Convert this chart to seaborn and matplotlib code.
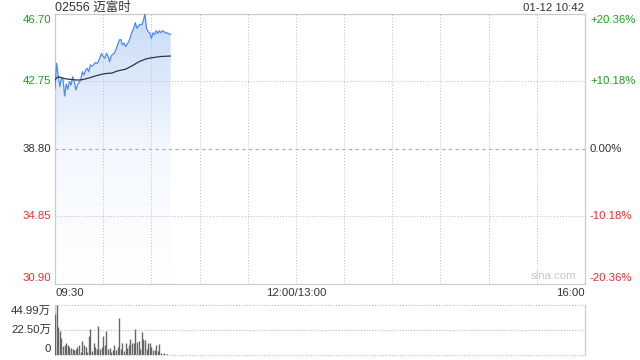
import numpy as np
import pandas as pd
import matplotlib
matplotlib.use("Agg")
import matplotlib.pyplot as plt
from matplotlib.colors import LinearSegmentedColormap
import seaborn as sns

# ---------------- data ----------------
title = "02556 迈富时"
stamp = "01-12 10:42"
prev_close = 38.80
price_ticks = [46.70, 42.75, 38.80, 34.85, 30.90]
pct_labels = ["+20.36%", "+10.18%", "0.00%", "-10.18%", "-20.36%"]
time_labels = ["09:30", "12:00/13:00", "16:00"]
vol_labels = ["44.99万", "22.50万", "0"]
vol_max = 44.99

price = [42.35, 43.82, 43.10, 42.45, 42.94, 42.88, 41.90, 42.60, 42.30, 42.74,
         42.55, 43.03, 42.74, 42.25, 42.55, 42.70, 42.84, 43.32, 43.13, 43.40,
         43.52, 43.32, 43.72, 43.65, 43.72, 43.85, 43.80, 43.90, 44.17, 44.40,
         44.20, 44.12, 44.40, 44.25, 43.91, 44.25, 44.35, 44.40, 44.63, 44.90,
         45.18, 45.20, 44.89, 45.00, 44.79, 44.95, 45.10, 45.37, 45.66, 45.86,
         46.19, 45.86, 46.00, 46.10, 46.06, 46.30, 46.70, 45.86, 45.66, 45.60,
         45.28, 45.60, 45.50, 45.72, 45.57, 45.72, 45.60, 45.72, 45.66, 45.57,
         45.60, 45.53, 45.50]

avg = [42.84, 42.95, 43.03, 43.00, 42.98, 42.95, 42.92, 42.90, 42.89, 42.88,
       42.87, 42.86, 42.85, 42.84, 42.84, 42.84, 42.85, 42.86, 42.88, 42.90,
       42.93, 42.95, 42.98, 43.01, 43.04, 43.07, 43.10, 43.12, 43.14, 43.17,
       43.19, 43.20, 43.22, 43.23, 43.23, 43.24, 43.26, 43.30, 43.34, 43.37,
       43.39, 43.41, 43.43, 43.45, 43.47, 43.52, 43.57, 43.62, 43.67, 43.72,
       43.78, 43.84, 43.89, 43.94, 43.97, 44.01, 44.05, 44.08, 44.10, 44.12,
       44.13, 44.15, 44.16, 44.18, 44.19, 44.20, 44.21, 44.22, 44.22, 44.23,
       44.23, 44.24, 44.24]

volume = [37, 45, 25, 22, 15, 8, 9, 11, 9, 7,
          6, 5, 4.5, 5.5, 7, 9, 3, 13, 9, 7,
          3, 17, 23, 4, 11, 7, 5, 26, 5, 7,
          17, 9, 22, 5, 6, 3, 4.5, 9, 4.5, 7,
          33, 5, 11, 4, 11, 6, 9, 14, 11, 11,
          23, 12, 13, 5, 21, 14, 13.5, 5.5, 11, 11,
          7, 4.5, 4.5, 9, 3.5, 10, 2, 1, 2, 1,
          0.5, 0.3, 0.2]

minutes = list(range(len(price)))
df = pd.DataFrame({"minute": minutes, "price": price, "avg": avg, "volume": volume})

# ---------------- style ----------------
sns.set_theme(style="white")
plt.rcParams["font.family"] = ["Liberation Sans", "Noto Sans CJK SC", "DejaVu Sans"]

GREEN = "#1a9e1a"
RED = "#f02b2b"
DARK = "#333333"
GRID = "#bdbdbd"
BORDER = "#cccccc"
FS = 8.2

fig = plt.figure(figsize=(6.4, 3.6), dpi=100)
W, H = 640, 360
L, R = 55, 585
ax = fig.add_axes([L / W, 1 - 284 / H, (R - L) / W, (284 - 14) / H])
axv = fig.add_axes([L / W, 1 - 355 / H, (R - L) / W, (355 - 305) / H])

XMAX = 330
lo, hi = price_ticks[-1], price_ticks[0]

# ---------------- main price panel ----------------
ax.set_xlim(0, XMAX)
ax.set_ylim(lo, hi)

# gradient fill under price
poly = ax.fill_between(df["minute"], df["price"], lo, color="none", lw=0)
cmap = LinearSegmentedColormap.from_list("fade", ["#ffffff", "#f4f8fe", "#c9dbf8"])
grad = np.linspace(1, 0, 256).reshape(-1, 1)
img = ax.imshow(grad, cmap=cmap, vmin=0, vmax=1, extent=[0, minutes[-1], lo, hi],
                aspect="auto", origin="upper", zorder=1)
img.set_clip_path(poly.get_paths()[0], transform=ax.transData)

# grid (drawn over the fill)
for t in range(30, XMAX, 30):
    ax.axvline(t, color=GRID, lw=0.7, ls=(0, (1, 2)), zorder=2)
for p in [price_ticks[1], price_ticks[3]]:
    ax.axhline(p, color=GRID, lw=0.7, ls=(0, (1, 2)), zorder=2)
ax.axhline(prev_close, color="#aaaaaa", lw=0.8, ls=(0, (3, 3)), zorder=2)

sns.lineplot(data=df, x="minute", y="price", ax=ax, color="#4d8bf0", lw=0.9, zorder=3)
sns.lineplot(data=df, x="minute", y="avg", ax=ax, color="#2b3547", lw=0.9, zorder=3)

ax.set_xticks([])
ax.set_yticks([])
ax.set_xlabel("")
ax.set_ylabel("")
for s in ax.spines.values():
    s.set_color(BORDER)
    s.set_linewidth(0.9)

# left price labels / right pct labels
colors = [GREEN, GREEN, DARK, RED, RED]
for i, (p, lab, c) in enumerate(zip(price_ticks, pct_labels, colors)):
    va = "top" if i == 0 else ("bottom" if i == len(price_ticks) - 1 else "center")
    off = -1 if i == 0 else (1 if i == len(price_ticks) - 1 else 0)
    ax.annotate(f"{p:.2f}", (0, p), xycoords="data", xytext=(-4, off),
                textcoords="offset pixels", ha="right", va=va, color=c, fontsize=FS)
    ax.annotate(lab, (XMAX, p), xycoords="data", xytext=(5, off),
                textcoords="offset pixels", ha="left", va=va, color=c, fontsize=FS)

# time labels
ax.annotate(time_labels[0], (0, lo), xytext=(0, -4), textcoords="offset pixels",
            ha="left", va="top", color=DARK, fontsize=FS)
ax.annotate(time_labels[1], (150, lo), xytext=(0, -4), textcoords="offset pixels",
            ha="center", va="top", color=DARK, fontsize=FS)
ax.annotate(time_labels[2], (XMAX, lo), xytext=(0, -4), textcoords="offset pixels",
            ha="right", va="top", color=DARK, fontsize=FS)

# watermark
ax.text(0.94, 0.012, "sina.com", transform=ax.transAxes, ha="center", va="bottom",
        color="#c8c8c8", fontsize=FS)

# title & stamp
fig.text(L / W, 1 - 8 / H, title, ha="left", va="center", color=DARK, fontsize=FS + 0.8,
         family=["Liberation Sans", "Noto Sans CJK SC"])
fig.text(584 / W, 1 - 8 / H, stamp, ha="right", va="center", color=DARK, fontsize=FS)

# ---------------- volume panel ----------------
axv.set_xlim(0, XMAX)
axv.set_ylim(0, vol_max)
for v in [vol_max, vol_max / 2, 0]:
    axv.axhline(v, color=GRID, lw=0.8, ls=(0, (1, 1.5)), zorder=1, clip_on=False)
axv.vlines(df["minute"], 0, df["volume"], color="#666666", lw=1.0, zorder=3)
axv.set_xticks([])
axv.set_yticks([])
axv.set_xlabel("")
axv.set_ylabel("")
for k in ["top", "bottom"]:
    axv.spines[k].set_visible(False)
for k in ["left", "right"]:
    axv.spines[k].set_color(BORDER)
    axv.spines[k].set_linewidth(0.9)

vpos = [vol_max, vol_max / 2, 0]
for i, (v, lab) in enumerate(zip(vpos, vol_labels)):
    va = "top" if i == 0 else ("bottom" if i == 2 else "center")
    off = -1 if i == 0 else (1 if i == 2 else 0)
    axv.annotate(lab, (0, v), xytext=(-4, off), textcoords="offset pixels",
                 ha="right", va=va, color=DARK, fontsize=FS,
                 family=["Liberation Sans", "Noto Sans CJK SC"])

fig.savefig("out.png", dpi=100)
